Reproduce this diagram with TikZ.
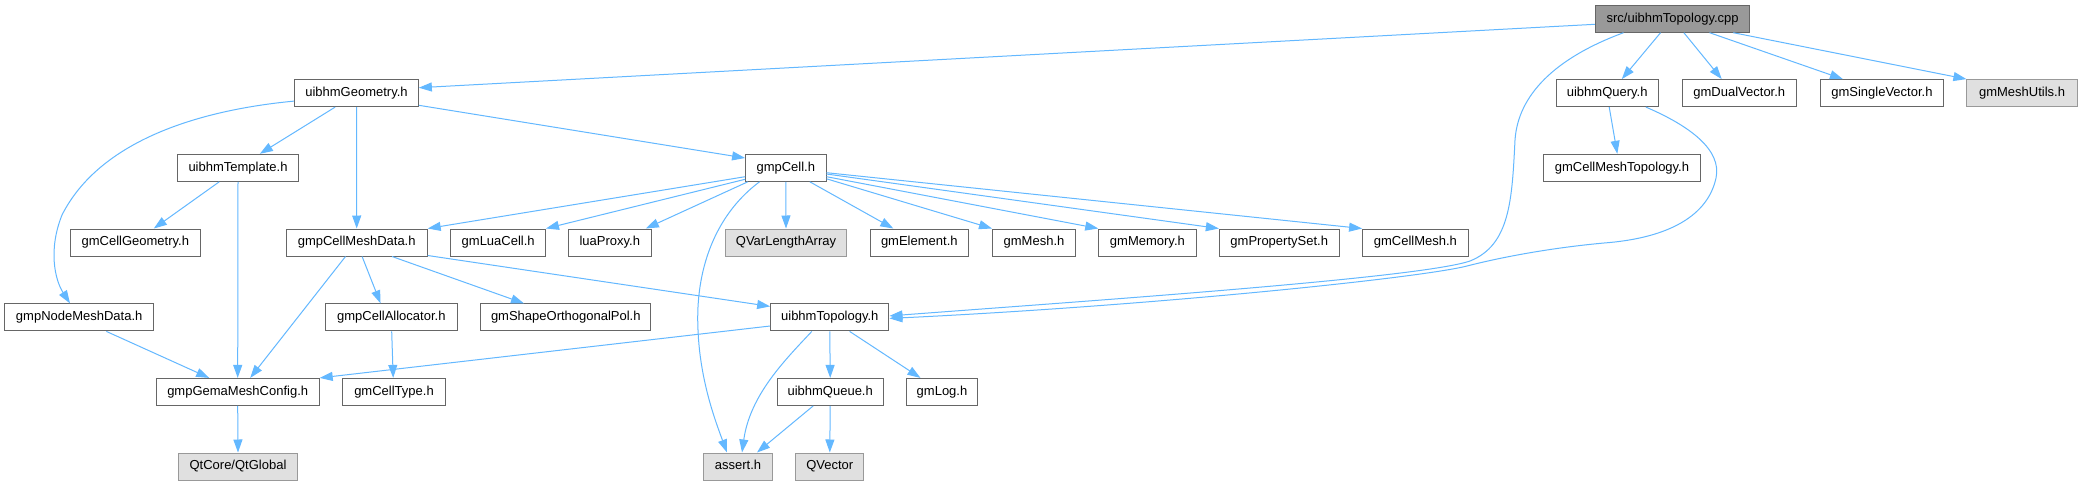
\documentclass[tikz,border=0pt]{standalone}
\usepackage{fontspec}
\setmainfont{Liberation Sans}
\usetikzlibrary{arrows.meta,calc}
\definecolor{edgeblue}{HTML}{63B8FF}
\definecolor{boxborder}{HTML}{666666}
\definecolor{extborder}{HTML}{999999}
\definecolor{extfill}{HTML}{E0E0E0}
\definecolor{mainfill}{HTML}{999999}
\begin{document}
\begin{tikzpicture}[x=1pt,y=-1pt,
  box/.style={draw=boxborder, fill=white, line width=1pt, minimum height=27pt, inner sep=0pt,
    font=\fontsize{13}{15}\selectfont, text height=9.4pt, text depth=2.8pt},
  ext/.style={box, draw=extborder, fill=extfill},
  mainbox/.style={box, fill=mainfill},
  link/.style={draw=edgeblue, line width=1pt, -{Triangle[length=13pt,width=9pt]}}]
\fill[white] (0,0) rectangle (2082,485);
\useasboundingbox (0,0) rectangle (2082,485);

% row 0
\node[mainbox, minimum width=154.5pt] (cpp) at (1672.6,18.7) {src/uibhmTopology.cpp};
% row 1
\node[box, minimum width=123.7pt] (geom) at (356.5,93.1) {uibhmGeometry.h};
\node[box, minimum width=101.6pt] (query) at (1607.2,93.1) {uibhmQuery.h};
\node[box, minimum width=114.2pt] (dual) at (1739.3,93.1) {gmDualVector.h};
\node[box, minimum width=123.6pt] (single) at (1881.9,93.1) {gmSingleVector.h};
\node[ext, minimum width=110.2pt] (utils) at (2022,93.1) {gmMeshUtils.h};
% row 2
\node[box, minimum width=120.5pt] (templ) at (238,167.8) {uibhmTemplate.h};
\node[box, minimum width=80.4pt] (cell) at (785.8,167.8) {gmpCell.h};
\node[box, minimum width=156.2pt] (cmtopo) at (1622,167.8) {gmCellMeshTopology.h};
% row 3
\node[box, minimum width=129.5pt] (cgeom) at (135.3,242.5) {gmCellGeometry.h};
\node[box, minimum width=141pt] (cmdata) at (356.7,242.5) {gmpCellMeshData.h};
\node[box, minimum width=94.6pt] (lua) at (498.2,242.5) {gmLuaCell.h};
\node[box, minimum width=83pt] (proxy) at (609.8,242.5) {luaProxy.h};
\node[ext, minimum width=121pt] (qvla) at (786,242.5) {QVarLengthArray};
\node[box, minimum width=98.2pt] (elem) at (919.3,242.5) {gmElement.h};
\node[box, minimum width=83pt] (mesh) at (1034,242.5) {gmMesh.h};
\node[box, minimum width=97.3pt] (mem) at (1147.4,242.5) {gmMemory.h};
\node[box, minimum width=119.7pt] (pset) at (1279.2,242.5) {gmPropertySet.h};
\node[box, minimum width=105.6pt] (cmesh) at (1415.4,242.5) {gmCellMesh.h};
% row 4
\node[box, minimum width=148.7pt] (nmdata) at (79.2,317.4) {gmpNodeMeshData.h};
\node[box, minimum width=131.7pt] (alloc) at (391.3,317.4) {gmpCellAllocator.h};
\node[box, minimum width=170pt] (shape) at (565.8,317.4) {gmShapeOrthogonalPol.h};
\node[box, minimum width=118.3pt] (topo) at (829.8,317.4) {uibhmTopology.h};
% row 5
\node[box, minimum width=163pt] (config) at (237.7,391.9) {gmpGemaMeshConfig.h};
\node[box, minimum width=102.2pt] (ctype) at (394,391.9) {gmCellType.h};
\node[box, minimum width=105.8pt] (queue) at (830.2,391.9) {uibhmQueue.h};
\node[box, minimum width=71.5pt] (log) at (942,391.9) {gmLog.h};
% row 6
\node[ext, minimum width=118.7pt] (qtglobal) at (238,466.5) {QtCore/QtGlobal};
\node[ext, minimum width=68.7pt] (assert) at (738,466.5) {assert.h};
\node[ext, minimum width=68.3pt] (qvector) at (829.8,466.5) {QVector};

% edges from cpp
\draw[link] ($(cpp.west)+(0,5.6)$) -- ($(geom.east)+(0,-5.4)$);
\draw[link] ($(cpp.south west)+(28.7,0)$) .. controls (1555,58) and (1518,95) .. (1515,140)
  .. controls (1512,200) and (1510,245) .. (1470,261)
  .. controls (1420,278) and (1100,300) .. ($(topo.east)+(0,-1.5)$);
\draw[link] ($(cpp.south west)+(65.7,0)$) -- ($(query.north)+(14.6,0)$);
\draw[link] ($(cpp.south west)+(89,0)$) -- ($(dual.north west)+(40,0)$);
\draw[link] ($(cpp.south west)+(114.7,0)$) -- ($(single.north west)+(23.3,0)$);
\draw[link] ($(cpp.south west)+(138.4,0)$) -- (utils.north west);

% edges from query
\draw[link] ($(query.south west)+(53.3,0)$) -- ($(cmtopo.north)+(-4.7,0)$);
\draw[link] ($(query.south west)+(90,0)$) .. controls (1690,126) and (1722,150) .. (1716,178)
  .. controls (1708,215) and (1670,238) .. (1604,243)
  .. controls (1560,247) and (1510,255) .. (1467,266)
  .. controls (1420,278) and (1150,306) .. ($(topo.east)+(0,1)$);

% edges from geom
\draw[link] ($(geom.south west)+(41,0)$) -- ($(templ.north west)+(82.6,0)$);
\draw[link] (geom.south) -- (cmdata.north);
\draw[link] ($(geom.east)+(0,12.2)$) -- ($(cell.west)+(0,-9.8)$);
\draw[link] ($(geom.west)+(0,8)$) .. controls (200,110) and (100,140) .. (62,215)
  .. controls (48,250) and (55,280) .. ($(nmdata.north)+(-9.2,0)$);

% edges from templ
\draw[link] ($(templ.south west)+(42,0)$) -- ($(cgeom.north)+(18.5,0)$);
\draw[link] (templ.south) -- (config.north);

% edges from cell
\draw[link] ($(cell.west)+(0,8.9)$) -- (cmdata.north east);
\draw[link] ($(cell.west)+(0,11.5)$) -- (lua.north east);
\draw[link] ($(cell.south west)+(2.7,0)$) -- ($(proxy.north east)+(-6,0)$);
\draw[link] (cell.south) -- (qvla.north);
\draw[link] ($(cell.south)+(24,0)$) -- ($(elem.north)+(-26,0)$);
\draw[link] ($(cell.east)+(0,11)$) -- (mesh.north west);
\draw[link] ($(cell.east)+(0,8.9)$) -- (mem.north west);
\draw[link] ($(cell.east)+(0,6.2)$) -- (pset.north west);
\draw[link] ($(cell.east)+(0,4.9)$) -- (cmesh.north west);
\draw[link] ($(cell.south west)+(14.4,0)$) .. controls (715,215) and (695,270) .. (698,330)
  .. controls (700,380) and (715,420) .. ($(assert.north)+(-11,0)$);

% edges from cmdata
\draw[link] ($(cmdata.south west)+(59.8,0)$) -- ($(config.north)+(12.5,0)$);
\draw[link] ($(cmdata.south west)+(76.4,0)$) -- ($(alloc.north west)+(55.6,0)$);
\draw[link] ($(cmdata.south west)+(106.3,0)$) -- ($(shape.north west)+(43.7,0)$);
\draw[link] ($(cmdata.south east)+(0,-1)$) -- ($(topo.west)+(0,-11)$);

% other edges
\draw[link] ($(nmdata.south west)+(102,0)$) -- ($(config.north west)+(53.5,0)$);
\draw[link] ($(alloc.south)+(0.4,0)$) -- ($(ctype.north)+(-0.8,0)$);
\draw[link] (config.south) -- (qtglobal.north);

% edges from topo
\draw[link] ($(topo.west)+(0,8.6)$) -- (config.north east);
\draw[link] (topo.south) -- (queue.north);
\draw[link] ($(topo.south)+(19.8,0)$) -- ($(log.north west)+(14.7,0)$);
\draw[link] ($(topo.south)+(-18,0)$) .. controls (785,360) and (750,395) .. ($(assert.north)+(4,0)$);

% edges from queue
\draw[link] ($(queue.south)+(-17,0)$) -- ($(assert.north)+(19,0)$);
\draw[link] (queue.south) -- (qvector.north);
\end{tikzpicture}
\end{document}
